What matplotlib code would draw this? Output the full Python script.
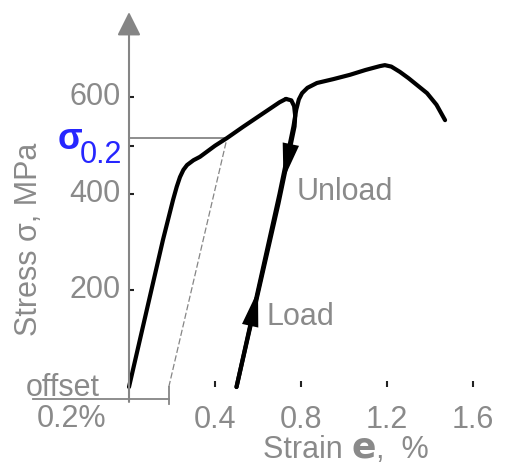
import numpy as np
import matplotlib
matplotlib.use('Agg')
import matplotlib.pyplot as plt

plt.rcParams['font.family'] = ['Liberation Sans', 'DejaVu Sans']

# stress-strain record (strain in %, stress in MPa)
load_strain = [0, 0.158, 0.205, 0.222, 0.237, 0.253, 0.27, 0.30, 0.33, 0.40, 0.456,
               0.53, 0.60, 0.66, 0.70, 0.73]
load_stress = [0, 305, 388, 415, 435, 450, 460, 470, 477, 500, 516,
               539, 560, 578, 590, 597]

unload_strain = [0.73, 0.755, 0.768, 0.773, 0.77, 0.695, 0.50]
unload_stress = [597, 594, 582, 562, 540, 380, 0]

reload_strain = [0.50, 0.585, 0.70, 0.765, 0.778, 0.79, 0.805, 0.83, 0.874, 0.95, 1.028,
                 1.10, 1.167, 1.19, 1.22, 1.26, 1.30, 1.35, 1.386, 1.43, 1.47]
reload_stress = [0, 170, 400, 540, 575, 596, 609, 620, 630, 638, 647,
                 657, 665, 667, 664, 653, 640, 622, 609, 585, 553]

offset = 0.185          # drawn 0.2 % offset
sigma02 = 516           # proof stress
sigma02_strain = 0.456

xticks = [0.4, 0.8, 1.2, 1.6]
xtick_labels = ['0.4', '0.8', '1.2', '1.6']
yticks = [200, 400, 500, 600]
ylabel_ticks = [200, 400, 600]

GRAY = '#8a8a8a'
AXC = '#858585'
BLUE = '#2626ff'
FS = 22

fig = plt.figure(figsize=(5.13, 4.74), dpi=100)
ax = fig.add_axes([0, 0, 1, 1])
ax.set_xlim(-0.6, 1.786)
ax.set_ylim(-180.3, 802)
ax.axis('off')

# axes with arrow heads
arrow_ax = dict(arrowstyle='-|>,head_length=0.8,head_width=0.4', color=AXC, lw=1.5,
                mutation_scale=18, shrinkA=0, shrinkB=0)
ax.annotate('', xy=(0, 777), xytext=(0, -31), arrowprops=arrow_ax)
ax.annotate('', xy=(1.82, 0), xytext=(0, 0), arrowprops=arrow_ax)

# ticks
ax.vlines(xticks, 0, 13, color='#222', lw=1.5)
ax.hlines(yticks, 0, 0.022, color='#222', lw=1.5)
for x, lab in zip(xticks, xtick_labels):
    ax.text(x, -68, lab, color=GRAY, fontsize=FS, ha='center', va='center')
for y in ylabel_ticks:
    ax.text(-0.04, y, str(y), color=GRAY, fontsize=FS, ha='right', va='center')

# offset construction
ax.plot([offset, sigma02_strain], [0, sigma02], color=AXC, lw=0.9, dashes=(5, 2))
ax.plot([0, sigma02_strain], [sigma02, sigma02], color=AXC, lw=1.3)
ax.plot([-0.447, offset], [-25, -25], color=AXC, lw=1.3)
ax.plot([offset, offset], [0, -35], color=AXC, lw=1.3)
ax.text(-0.307, -19, 'offset', color=GRAY, fontsize=FS, ha='center', va='baseline')
ax.text(-0.265, -66, '0.2%', color=GRAY, fontsize=FS, ha='center', va='center')

# curves
curve = dict(color='k', lw=3, solid_capstyle='round', solid_joinstyle='round')
ax.plot(load_strain, load_stress, **curve)
ax.plot(unload_strain, unload_stress, **curve)
ax.plot(reload_strain, reload_stress, **curve)


# direction arrows placed along the unload / reload paths
def along(strains, stresses, s):
    order = np.argsort(stresses)
    return np.interp(s, np.array(stresses)[order], np.array(strains)[order])


head = dict(arrowstyle='-|>,head_length=1.3,head_width=0.3', color='k', lw=0,
            mutation_scale=20, shrinkA=0, shrinkB=0)
ax.annotate('', xy=(along(unload_strain[4:], unload_stress[4:], 430), 430),
            xytext=(along(unload_strain[4:], unload_stress[4:], 505), 505), arrowprops=head)
ax.annotate('', xy=(along(reload_strain[:4], reload_stress[:4], 200), 200),
            xytext=(along(reload_strain[:4], reload_stress[:4], 130), 130), arrowprops=head)

ax.text(0.78, 405, 'Unload', color=GRAY, fontsize=FS, ha='left', va='center')
ax.text(0.64, 145, 'Load', color=GRAY, fontsize=FS, ha='left', va='center')

# sigma 0.2 label
ax.text(-0.218, 493, 'σ', color=BLUE, fontsize=26, fontweight='bold', ha='right', va='baseline')
ax.text(-0.033, 464, '0.2', color=BLUE, fontsize=FS, ha='right', va='baseline')

# axis titles
ax.text(-0.465, 306, 'Stress σ, MPa', color=GRAY, fontsize=FS, rotation=90, ha='center', va='center')
t1 = ax.text(0.625, -147, 'Strain ', color=GRAY, fontsize=FS, ha='left', va='baseline')
t2 = ax.annotate('e', xy=(1, 0), xycoords=t1, color=GRAY, fontsize=26, fontweight='bold',
                 family='DejaVu Sans', ha='left', va='bottom')
ax.annotate(',  %', xy=(1, 0), xycoords=t2, color=GRAY, fontsize=FS, ha='left', va='bottom')

fig.savefig('out.png', dpi=100)
